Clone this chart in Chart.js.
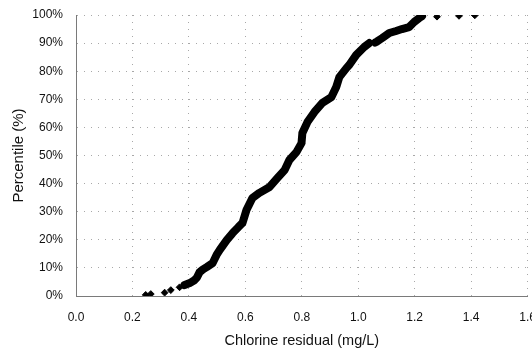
<!DOCTYPE html>
<html>
<head>
<meta charset="utf-8">
<script src="https://cdn.jsdelivr.net/npm/chart.js@4/dist/chart.umd.min.js"></script>
<style>
  html, body { margin: 0; padding: 0; background: #ffffff; }
  #wrap { width: 532px; height: 350px; position: relative; }
</style>
</head>
<body>
<div id="wrap"><canvas id="c" width="532" height="350"></canvas></div>
<script>
// Axis ticks
const xTickValues = [0.0, 0.2, 0.4, 0.6, 0.8, 1.0, 1.2, 1.4, 1.6];
const yTickValues = [0, 10, 20, 30, 40, 50, 60, 70, 80, 90, 100];

// Isolated low readings (chlorine mg/L, percentile %)
const lowChlorine    = [0.247, 0.265, 0.314, 0.336, 0.367];
const lowPercentile  = [0.4,   0.7,   1.2,   2.1,   3.1];

// Dense part of the cumulative curve, first run
const curveAChlorine = [0.385, 0.403, 0.418, 0.428, 0.438, 0.450, 0.463, 0.484, 0.498, 0.510, 0.534, 0.555, 0.575, 0.590, 0.604, 0.625, 0.650, 0.686, 0.714, 0.739, 0.756, 0.781, 0.799, 0.802, 0.820, 0.845, 0.873, 0.905, 0.922, 0.933, 0.958, 0.968, 0.993, 1.021, 1.039];
const curveAPercent  = [3.9,   4.6,   5.5,   6.5,   8.5,   9.5,   10.3,  11.7,  14.6,  16.5,  19.9,  22.4,  24.5,  26.0,  30.6,  34.9,  36.7,  38.8,  42.0,  44.8,  48.4,  51.2,  54.4,  58.0,  61.9,  65.5,  68.7,  70.8,  74.4,  77.9,  81.1,  82.2,  85.8,  88.6,  90.0];

// Dense part of the cumulative curve, second run
const curveBChlorine = [1.060, 1.067, 1.085, 1.110, 1.134, 1.155, 1.180, 1.198, 1.216, 1.226];
const curveBPercent  = [90.2,  90.6,  91.8,  93.6,  94.3,  95.0,  95.7,  97.5,  98.9,  99.6];

// Isolated high readings
const highChlorine   = [1.279, 1.357, 1.413];
const highPercentile = [99.4,  99.7,  99.9];

function pts(xs, ys) { return xs.map((x, i) => ({ x: x, y: ys[i] })); }

const FONT = "'Liberation Sans', Arial, Helvetica, sans-serif";

const markerStyle = {
  pointStyle: 'rectRot',
  pointRadius: 3.4,
  pointBorderWidth: 1,
  pointBackgroundColor: '#000',
  pointBorderColor: '#000',
  pointHoverRadius: 3.4
};

const lineStyle = { showLine: true, borderColor: '#000', borderWidth: 8, borderCapStyle: 'round', borderJoinStyle: 'round', tension: 0 };

new Chart(document.getElementById('c'), {
  type: 'scatter',
  data: {
    datasets: [
      Object.assign({ data: pts(lowChlorine, lowPercentile), showLine: false }, markerStyle),
      Object.assign({ data: pts(curveAChlorine, curveAPercent) }, lineStyle, markerStyle),
      Object.assign({ data: pts(curveBChlorine, curveBPercent) }, lineStyle, markerStyle),
      Object.assign({ data: pts(highChlorine, highPercentile), showLine: false }, markerStyle)
    ]
  },
  options: {
    responsive: false,
    animation: false,
    events: [],
    layout: { padding: { top: 15, right: 4, left: 0, bottom: 0 } },
    plugins: { legend: { display: false }, tooltip: { enabled: false } },
    scales: {
      x: {
        type: 'linear',
        min: 0, max: 1.6,
        afterBuildTicks: (s) => { s.ticks = xTickValues.map(v => ({ value: v })); },
        afterFit: (s) => { s.height = 54; s.paddingLeft = 0; s.paddingRight = 0; },
        ticks: {
          padding: 14,
          color: '#111',
          font: { family: FONT, size: 12 },
          maxRotation: 0,
          autoSkip: false,
          callback: (v) => Number(v).toFixed(1)
        },
        grid: { color: '#a8a8a8', lineWidth: 1, drawTicks: false },
        border: { display: true, color: '#7a7a7a', width: 1, dash: [1, 6] },
        title: {
          display: true,
          text: 'Chlorine residual (mg/L)',
          color: '#111',
          font: { family: FONT, size: 14.5 },
          padding: { top: 0, bottom: 0 }
        }
      },
      y: {
        type: 'linear',
        min: 0, max: 100,
        afterBuildTicks: (s) => { s.ticks = yTickValues.map(v => ({ value: v })); },
        afterFit: (s) => { s.width = 76; s.paddingTop = 0; s.paddingBottom = 0; },
        ticks: {
          padding: 13,
          color: '#111',
          font: { family: FONT, size: 12 },
          autoSkip: false,
          callback: (v) => v + '%'
        },
        grid: { color: '#a8a8a8', lineWidth: 1, drawTicks: false },
        border: { display: true, color: '#7a7a7a', width: 1, dash: [1, 6] },
        title: {
          display: true,
          text: 'Percentile (%)',
          color: '#111',
          font: { family: FONT, size: 15 },
          padding: { top: 10, bottom: 0 }
        }
      }
    }
  }
});
</script>
</body>
</html>
